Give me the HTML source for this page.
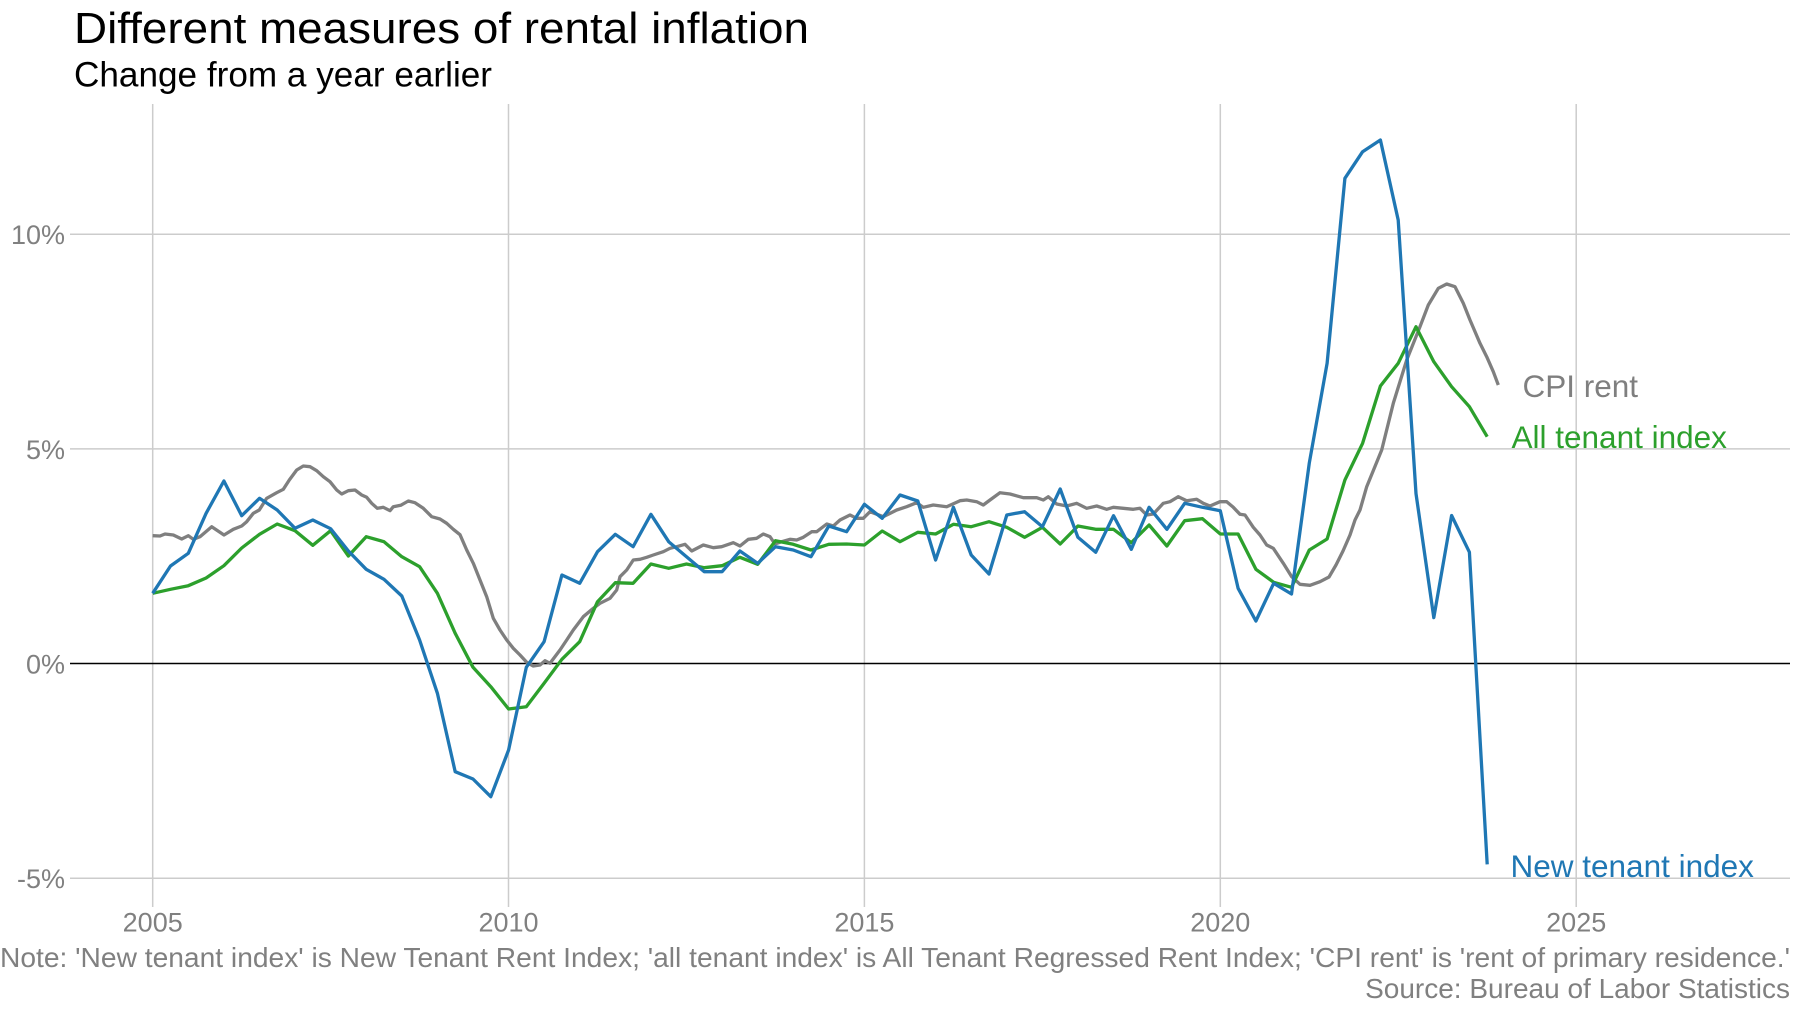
<!DOCTYPE html>
<html>
<head>
<meta charset="utf-8">
<style>
html,body{margin:0;padding:0;background:#fff;}
svg{display:block;}
text{font-family:"Liberation Sans",Arial,sans-serif;}
</style>
</head>
<body>
<svg width="1800" height="1014" viewBox="0 0 1800 1014" xmlns="http://www.w3.org/2000/svg">
<rect x="0" y="0" width="1800" height="1014" fill="#fff"/>

<!-- Title / subtitle -->
<text x="74" y="43" font-size="44" fill="#000" textLength="735" lengthAdjust="spacingAndGlyphs">Different measures of rental inflation</text>
<text x="74" y="86.5" font-size="35" fill="#000" textLength="418" lengthAdjust="spacingAndGlyphs">Change from a year earlier</text>

<!-- Gridlines -->
<g stroke="#cccccc" stroke-width="1.5" fill="none">
<line x1="152.7" y1="104" x2="152.7" y2="907"/>
<line x1="508.5" y1="104" x2="508.5" y2="907"/>
<line x1="864.4" y1="104" x2="864.4" y2="907"/>
<line x1="1220.3" y1="104" x2="1220.3" y2="907"/>
<line x1="1576.2" y1="104" x2="1576.2" y2="907"/>
<line x1="70" y1="234.2" x2="1790" y2="234.2"/>
<line x1="70" y1="448.9" x2="1790" y2="448.9"/>
<line x1="70" y1="878.2" x2="1790" y2="878.2"/>
</g>
<line x1="70" y1="663.5" x2="1790" y2="663.5" stroke="#000" stroke-width="1.6"/>

<!-- Y tick labels -->
<g font-size="27" fill="#808080" text-anchor="end">
<text x="65" y="244.2">10%</text>
<text x="65" y="458.9">5%</text>
<text x="65" y="673.5">0%</text>
<text x="65" y="888.2">-5%</text>
</g>

<!-- X tick labels -->
<g font-size="27" fill="#808080" text-anchor="middle">
<text x="152.7" y="931.5">2005</text>
<text x="508.5" y="931.5">2010</text>
<text x="864.4" y="931.5">2015</text>
<text x="1220.3" y="931.5">2020</text>
<text x="1576.2" y="931.5">2025</text>
</g>

<!-- CPI rent (gray) -->
<polyline fill="none" stroke="#7f7f7f" stroke-width="3.3" stroke-linejoin="round" stroke-linecap="butt" points="
152.7,535.7 160,536 165,534 173.3,535 181.7,539 188.3,535.7 193.3,539.3 200,536.7 211.7,526.7 224,535 233.3,529.3 241.7,526 246.7,521.7 253.3,513.3 259.3,510 266.7,498.3 276.7,492.7 283.3,489.3 289.3,480 296.7,470 303.3,466 310,466.7 316.7,470.7 323.3,476.7 330,481.7 336.7,490 341.7,494 348.3,490.7 355,490 361.7,495 366.7,497.3 371.7,503.3 377.3,508.3 383.3,507.3 390,510.7 393.3,506.7 400.7,505.3 408.3,501 415,502.7 423.3,508.3 431.7,516.7 440,519 446.7,523.3 453.3,529.3 460,534.7 466.7,550 473.3,563.3 480,580 486.7,596.7 493.3,618.3 500,630 506.7,640 513.3,648.3 520,655 526.7,662.3 533.3,666 540,665 545,660.7 550,663.3 560,650 566.7,640 573.3,630 583.3,616.7 593.3,608.3 600,603.3 610,598.3 616.7,590 620,576.7 626.7,570 633.3,560 640,559.3 646.7,557.3 653.3,555 663.3,551.7 670,548.3 676.7,546.7 685,544.3 691.7,551 703.3,545 713.3,547.7 721.7,546.7 733.3,542.7 740,546 748.3,539.3 756.7,538.3 763.3,534 770,536.7 775,544 781.7,541.7 790,539.3 796.7,540 803.3,537.3 811.7,531.7 816.7,531.7 826.7,524 833.3,526 840,520 850,515 856.7,518.3 863.3,518.3 870,511.7 883.3,516.7 896.7,510 906.7,506.7 916.7,502.7 923.3,507.3 933.3,505 946.7,506.7 960,500.7 966.7,500 976.7,501.7 983.3,505 990,500 1000,492.7 1010,494 1023.3,497.7 1036.7,497.7 1043.3,500 1048.3,496.7 1056.7,504 1066.7,506 1076.7,503.3 1086.7,508.3 1096.7,506 1106.7,509.3 1113.3,507.3 1123.3,508.3 1133.3,509.3 1140,508.3 1146.7,515 1153.3,514 1163.3,503.3 1170,501.7 1178.3,496.7 1186.7,500.7 1196.7,499.3 1203.3,503.3 1210,506 1220,501.7 1226.7,501.7 1233.3,507.3 1240,514.3 1245,515 1253.3,527.3 1260,535 1266.7,545 1273.3,548.3 1283.3,563.3 1291.7,576.7 1300,584.3 1310,585.3 1320,581.7 1329,577 1336,565 1343,551 1350,535 1355,520 1360,510 1366.7,486.7 1381.7,450 1393.3,403.3 1406.7,360 1420,326.7 1428.3,305 1438.3,288.3 1446.7,284 1455,286.7 1463.3,303.3 1470,320 1480,343.3 1486.7,356.7 1493.3,371.7 1498.3,385"/>

<!-- All tenant index (green) -->
<polyline fill="none" stroke="#2ca02c" stroke-width="3.3" stroke-linejoin="round" points="
152.7,593.3 170.5,589.3 188.3,585.7 206.1,578 223.9,565.7 241.7,548 259.5,534.3 277.2,524 295,530.7 312.8,545.3 330.6,530.7 348.4,556 366.2,536.7 384,541.7 401.8,556.7 419.6,566.7 437.4,593.3 455.2,633.3 473,667.3 490.8,686.7 508.6,709 526.3,706.7 544.1,683.3 561.9,659.3 579.7,641.7 597.5,601.7 615.3,582.7 633.1,583.3 650.9,564 668.7,568.3 686.5,564 704.3,567.7 722.1,565.7 739.9,557.3 757.7,564.3 775.5,540.7 793.2,544.3 811,550 828.8,544.3 846.6,544 864.4,545 882.2,531 900,541.7 917.8,532.3 935.6,534 953.4,524.3 971.2,526.7 989,521.7 1006.8,527.3 1024.6,537.3 1042.4,527.3 1060.2,544 1077.9,526 1095.7,529.3 1113.5,529.3 1131.3,542.7 1149.1,525 1166.9,546 1184.7,520.7 1202.5,518.7 1220.3,534 1238.1,534 1255.9,569.3 1273.7,582.3 1291.5,587.3 1309.3,550 1327.1,539 1344.9,480 1362.6,443.3 1380.4,386 1398.2,363.3 1416,326.7 1433.8,361.7 1451.6,386.7 1469.4,406.7 1487.2,436.7"/>

<!-- New tenant index (blue) -->
<polyline fill="none" stroke="#1f77b4" stroke-width="3.3" stroke-linejoin="round" points="
152.7,593.3 170.5,566 188.3,553.3 206.1,513.3 223.9,481 241.7,515.7 259.5,498.3 277.2,510 295,528.3 312.8,520 330.6,528.7 348.4,551 366.2,569.3 384,579.3 401.8,596 419.6,640 437.4,693.3 455.2,771.7 473,779 490.8,796.7 508.6,750 526.3,667.3 544.1,641.7 561.9,575 579.7,583.3 597.5,551.7 615.3,534.3 633.1,546.7 650.9,514.3 668.7,541.7 686.5,556.7 704.3,571.7 722.1,571.7 739.9,551 757.7,563.3 775.5,546.7 793.2,550 811,556.7 828.8,526 846.6,531.7 864.4,504.3 882.2,518.3 900,495 917.8,501 935.6,560 953.4,507.3 971.2,555 989,574 1006.8,515 1024.6,511.7 1042.4,526.7 1060.2,489 1077.9,537.3 1095.7,552.3 1113.5,515.7 1131.3,549.3 1149.1,507.3 1166.9,529.3 1184.7,503.3 1202.5,507.3 1220.3,510.7 1238.1,588.3 1255.9,621 1273.7,583.3 1291.5,594 1309.3,463 1327.1,363.3 1344.9,178.3 1362.6,151.7 1380.4,140 1398.2,220 1416,493.6 1433.8,617.6 1451.6,515.5 1469.4,552.2 1487.2,864.4"/>

<!-- Series labels -->
<text x="1522.5" y="397" font-size="31.5" fill="#7f7f7f">CPI rent</text>
<text x="1511.5" y="448" font-size="31.5" fill="#2ca02c">All tenant index</text>
<text x="1510.5" y="877" font-size="31.5" fill="#1f77b4">New tenant index</text>

<!-- Note / source -->
<text x="0" y="967" font-size="28" fill="#808080" textLength="1790" lengthAdjust="spacingAndGlyphs">Note: 'New tenant index' is New Tenant Rent Index; 'all tenant index' is All Tenant Regressed Rent Index; 'CPI rent' is 'rent of primary residence.'</text>
<text x="1790" y="998" font-size="28" fill="#808080" text-anchor="end">Source: Bureau of Labor Statistics</text>
</svg>
</body>
</html>
